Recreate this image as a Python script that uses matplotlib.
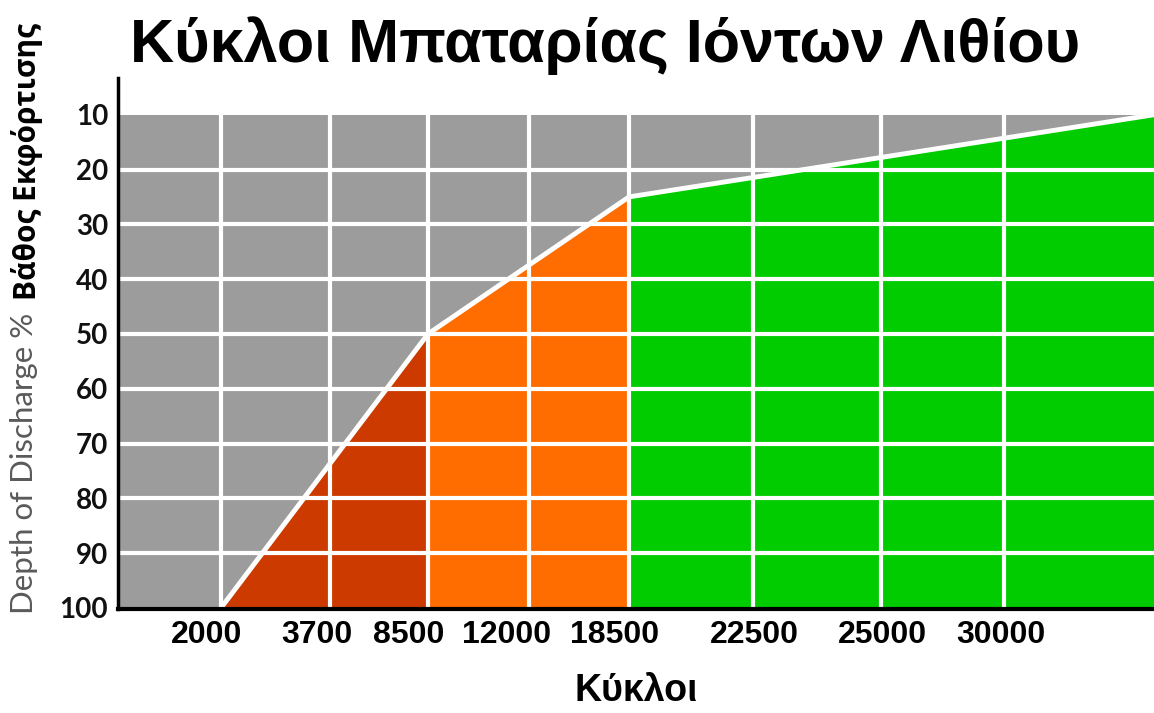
import matplotlib.pyplot as plt

# Cycle categories along the x axis and depth-of-discharge ticks
cycles = ['2000', '3700', '8500', '12000', '18500', '22500', '25000', '30000']
dod_ticks = [10, 20, 30, 40, 50, 60, 70, 80, 90, 100]

# Break points of the cycle-life curve (category, DoD %), last point runs to the edge
curve_cycles = ['2000', '8500', '18500']
curve_dod = [100, 50, 25]
end_dod = 10

band_colors = ['#CD3A00', '#FF6C00', '#00CC00']

# Layout of the category axis (uneven spacing)
grid_pos = [1.03, 2.12, 3.10, 4.11, 5.11, 6.35, 7.63, 8.86]
label_pos = [0.89, 1.99, 2.91, 3.89, 4.97, 6.36, 7.64, 8.83]
x_max = 10.36

fig = plt.figure(figsize=(11.54, 7.13), dpi=100)
ax = fig.add_axes([118 / 1154, 1 - 609 / 713, 1 - 118 / 1154, (609 - 78) / 713])
ax.set_xlim(0, x_max)
ax.set_ylim(100.2, 3.3)

# grey chart area
ax.fill_between([0, x_max], 10, 100, color='#9C9C9C', lw=0, zorder=0)

curve_x = [grid_pos[cycles.index(c)] for c in curve_cycles] + [x_max]
curve_y = curve_dod + [end_dod]

# coloured bands under each segment of the curve
for i, col in enumerate(band_colors):
    ax.fill_between(curve_x[i:i + 2], curve_y[i:i + 2], 100, color=col, lw=0, zorder=1)

# white grid only inside the grey area
for y in dod_ticks[1:-1]:
    ax.plot([0, x_max], [y, y], color='white', lw=3, zorder=2, solid_capstyle='butt')
for x in grid_pos:
    ax.plot([x, x], [10, 100], color='white', lw=3, zorder=2, solid_capstyle='butt')

ax.plot(curve_x, curve_y, color='white', lw=3.5, zorder=3, solid_joinstyle='round')

for side in ['top', 'right']:
    ax.spines[side].set_visible(False)
ax.spines['left'].set_linewidth(2.5)
ax.spines['bottom'].set_linewidth(3)
ax.spines['left'].set_zorder(4)
ax.spines['bottom'].set_zorder(4)

ax.set_yticks(dod_ticks)
ax.set_yticklabels([str(v) for v in dod_ticks], family=['Lato', 'DejaVu Sans'],
                   fontsize=20, fontweight='bold', color='#111111')
ax.tick_params(axis='y', length=0, pad=7)

ax.set_xticks(label_pos)
ax.set_xticklabels(cycles, family='Liberation Sans', fontsize=23,
                   fontweight='bold', color='black')
ax.tick_params(axis='x', length=0, pad=8)

fig.text(636 / 1154, 4 / 713, 'Κύκλοι', ha='center', va='bottom',
         family='Liberation Sans', fontweight='bold', fontsize=27)

fig.text(605 / 1154, 1 - 62 / 713, 'Κύκλοι Μπαταρίας Ιόντων Λιθίου', ha='center',
         va='baseline', family='Liberation Sans', fontweight='bold', fontsize=44)

# two-part vertical axis title
fig.text(24 / 1154, 1 - 614 / 713, 'Depth of Discharge %', rotation=90, ha='center',
         va='bottom', family=['Lato', 'DejaVu Sans'], fontsize=22.5, color='#5A5A5A')
fig.text(27 / 1154, 1 - 300 / 713, 'Βάθος Εκφόρτισης', rotation=90, ha='center',
         va='bottom', family=['Open Sans', 'DejaVu Sans'], fontweight='bold',
         fontsize=21.5, color='black')

fig.savefig('out.png', dpi=100)
